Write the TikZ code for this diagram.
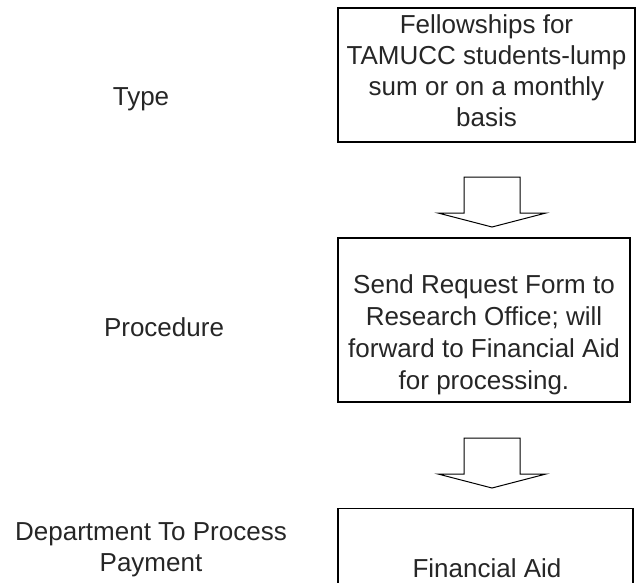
\documentclass[tikz,border=0pt]{standalone}
\usepackage{fontspec}
\setmainfont{Liberation Sans}
\usetikzlibrary{positioning}

\tikzset{
    stepbox/.style={draw=black, line width=1.3pt, inner sep=0pt},
    sidelbl/.style={align=center, font=\fontsize{26}{31}\selectfont, text=black!85},
    blockarr/.style={draw=black, line width=1pt, fill=white, line join=miter}
}

\begin{document}
\begin{tikzpicture}[x=1pt, y=-1pt]
    \useasboundingbox (0,0) rectangle (637,582);

    % Right column: the three step boxes
    \node[stepbox, minimum width=297pt, minimum height=134pt] (type) at (486.5,75) {};
    \node[stepbox, minimum width=292pt, minimum height=164pt] (proc) at (484,320) {};
    \node[stepbox, anchor=north, minimum width=295pt, minimum height=82pt] (pay) at (485.5,508) {};

    % Text inside the boxes
    \node[sidelbl] (typetxt) at ([yshift=4pt]type.center)
        {Fellowships for\\TAMUCC students-lump\\sum or on a monthly\\basis};
    \node[sidelbl, font=\fontsize{26}{32}\selectfont] (proctxt) at ([yshift=-15pt]proc.center)
        {Send Request Form to\\Research Office; will\\forward to Financial Aid\\for processing.};
    \node[sidelbl] (paytxt) at (487,568) {Financial Aid};

    % Block arrows between the steps
    \draw[blockarr] (464,177) -- (520,177) -- (520,213) -- (546,213) -- (492,227)
        -- (438,213) -- (464,213) -- cycle;
    \draw[blockarr] (464,438) -- (520,438) -- (520,474) -- (546,474) -- (492,488)
        -- (438,474) -- (464,474) -- cycle;

    % Left column: row headings
    \node[sidelbl] (typelbl) at (141,99) {Type};
    \node[sidelbl] (proclbl) at (164,327) {Procedure};
    \node[sidelbl] (paylbl) at (151,550) {Department To Process\\Payment};
\end{tikzpicture}
\end{document}
